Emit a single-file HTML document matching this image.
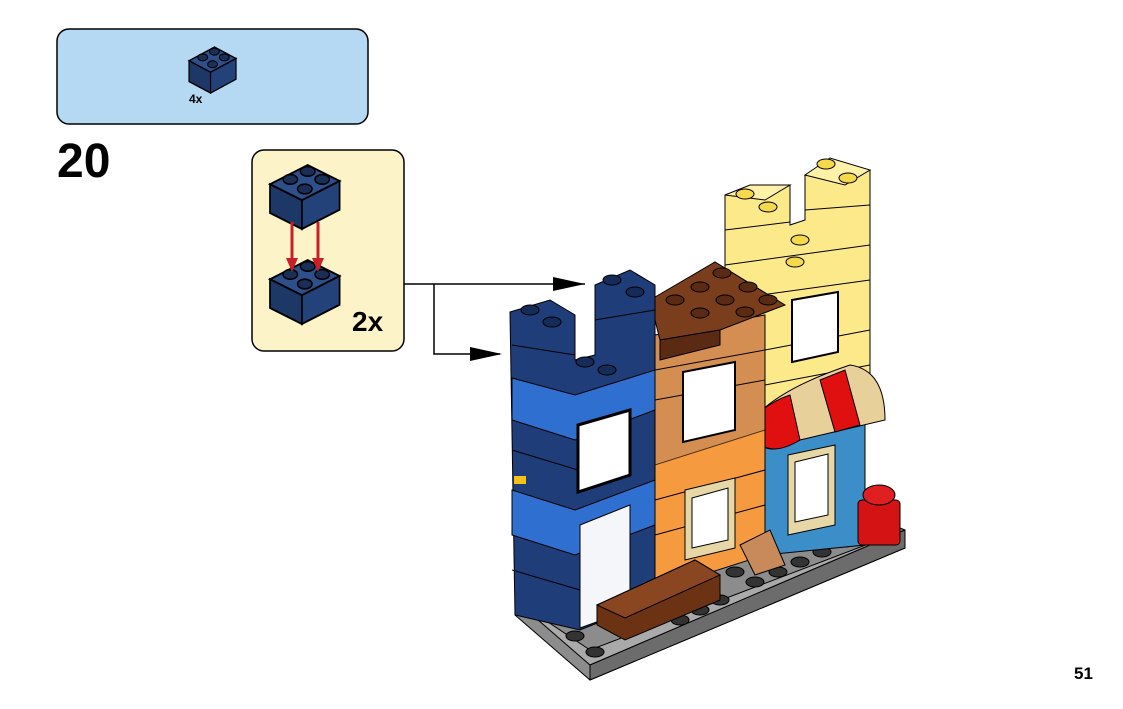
<!DOCTYPE html>
<html><head><meta charset="utf-8"><style>
html,body{margin:0;padding:0;background:#fff;}
body{width:1123px;height:709px;position:relative;overflow:hidden;font-family:"Liberation Sans",sans-serif;}
.t{position:absolute;font-weight:bold;color:#000;}
</style></head><body>
<svg width="1123" height="709" style="position:absolute;left:0;top:0" xmlns="http://www.w3.org/2000/svg">
<defs>
<g id="brick">
 <polygon points="0,12 22,22 48,10 26,0" fill="#2d4f8a" stroke="#000" stroke-width="1.2"/>
 <polygon points="0,12 22,22 22,40 0,30" fill="#1d3766" stroke="#000" stroke-width="1.2"/>
 <polygon points="22,22 48,10 48,28 22,40" fill="#24427a" stroke="#000" stroke-width="1.2"/>
 <ellipse cx="14" cy="9" rx="5" ry="3" fill="#1a2f58" stroke="#000"/>
 <ellipse cx="26" cy="4" rx="5" ry="3" fill="#1a2f58" stroke="#000"/>
 <ellipse cx="24" cy="15" rx="5" ry="3" fill="#1a2f58" stroke="#000"/>
 <ellipse cx="36" cy="9" rx="5" ry="3" fill="#1a2f58" stroke="#000"/>
</g>
</defs>
<rect x="57" y="29" width="311" height="95" rx="12" fill="#b5d9f2" stroke="#000" stroke-width="1.5"/>
<g transform="translate(189,47) scale(0.98,1.15)"><use href="#brick"/></g>
<rect x="252" y="150" width="152" height="201" rx="12" fill="#fdf3c9" stroke="#000" stroke-width="1.5"/>
<g transform="translate(270,165) scale(1.45,1.6)"><use href="#brick"/></g>
<g transform="translate(270,260) scale(1.45,1.6)"><use href="#brick"/></g>
<line x1="292" y1="222" x2="292" y2="262" stroke="#c8202a" stroke-width="3"/>
<polygon points="286,258 298,258 292,272" fill="#c8202a"/>
<line x1="318" y1="222" x2="318" y2="262" stroke="#c8202a" stroke-width="3"/>
<polygon points="312,258 324,258 318,272" fill="#c8202a"/>
<polyline points="404,284 585,284" fill="none" stroke="#000" stroke-width="1.5"/>
<polygon points="585,284 553,277 553,291" fill="#000"/>
<polyline points="434,284 434,354 500,354" fill="none" stroke="#000" stroke-width="1.5"/>
<polygon points="502,354 470,347 470,361" fill="#000"/>
<polygon points="515,615 590,680 905,548 905,530 830,500 515,600" fill="#8c8c8c" stroke="#000"/>
<polygon points="515,600 590,665 905,530 590,650" fill="#aaa" stroke="#000"/>
<polygon points="590,665 590,680 905,548 905,530" fill="#6c6c6c" stroke="#000"/>
<g fill="#333" stroke="#000">
<ellipse cx="575" cy="636" rx="9" ry="5"/><ellipse cx="595" cy="652" rx="9" ry="5"/>
<ellipse cx="735" cy="572" rx="9" ry="5"/><ellipse cx="755" cy="582" rx="9" ry="5"/><ellipse cx="778" cy="572" rx="9" ry="5"/>
<ellipse cx="800" cy="562" rx="9" ry="5"/><ellipse cx="822" cy="552" rx="9" ry="5"/><ellipse cx="845" cy="542" rx="9" ry="5"/>
<ellipse cx="810" cy="540" rx="9" ry="5"/><ellipse cx="835" cy="530" rx="9" ry="5"/><ellipse cx="700" cy="610" rx="9" ry="5"/>
<ellipse cx="680" cy="620" rx="9" ry="5"/><ellipse cx="720" cy="600" rx="9" ry="5"/>
</g>
<polygon points="725,195 790,185 790,225 805,220 805,175 870,170 870,420 765,440 765,330 725,330" fill="#fbe98a" stroke="#000"/>
<g stroke="#000" stroke-width="1" fill="none"><line x1="725" y1="230" x2="790" y2="222"/><line x1="725" y1="265" x2="870" y2="245"/><line x1="725" y1="300" x2="870" y2="280"/><line x1="765" y1="350" x2="870" y2="330"/><line x1="805" y1="210" x2="870" y2="205"/><line x1="765" y1="385" x2="870" y2="365"/></g>
<polygon points="725,195 750,185 790,185 765,200" fill="#fff2a8" stroke="#000"/>
<polygon points="805,175 830,158 870,170 845,185" fill="#fff2a8" stroke="#000"/>
<g fill="#f5d94a" stroke="#000"><ellipse cx="745" cy="194" rx="9" ry="5"/><ellipse cx="768" cy="207" rx="9" ry="5"/><ellipse cx="826" cy="164" rx="9" ry="5"/><ellipse cx="848" cy="178" rx="9" ry="5"/><ellipse cx="800" cy="240" rx="9" ry="5"/><ellipse cx="795" cy="262" rx="9" ry="5"/></g>
<polygon points="792,300 838,292 838,352 792,362" fill="#fff" stroke="#000" stroke-width="2"/>
<polygon points="765,430 865,410 865,545 765,555" fill="#3b8ec7" stroke="#000"/>
<polygon points="788,455 835,445 835,525 788,535" fill="#e8d7a6" stroke="#000"/>
<polygon points="795,462 828,454 828,515 795,522" fill="#fff" stroke="#000"/>
<path d="M762,410 Q790,385 850,365 Q885,370 885,420 L800,440 Q770,455 762,445 Z" fill="#e8d09a" stroke="#000"/>
<path d="M762,410 Q775,400 790,395 L800,440 Q775,455 762,445 Z" fill="#e01010" stroke="#000"/>
<path d="M820,380 L845,370 L860,425 L835,432 Z" fill="#e01010" stroke="#000"/>
<polygon points="655,335 765,315 765,555 655,590" fill="#f59a3e" stroke="#000"/>
<polygon points="655,335 765,315 765,430 655,465" fill="#c88a5a" stroke="#000" opacity="0.7"/>
<g stroke="#000" stroke-width="1"><line x1="655" y1="370" x2="765" y2="350"/><line x1="655" y1="400" x2="765" y2="380"/><line x1="655" y1="500" x2="765" y2="470"/><line x1="655" y1="535" x2="765" y2="505"/></g>
<polygon points="683,372 735,362 735,430 683,442" fill="#fff" stroke="#000" stroke-width="2"/>
<polygon points="685,490 735,478 735,548 685,560" fill="#e8d7a6" stroke="#000"/>
<polygon points="692,498 728,488 728,540 692,548" fill="#fff" stroke="#000"/>
<polygon points="740,545 770,530 785,565 755,575" fill="#c88a5a" stroke="#000"/>
<polygon points="650,300 715,262 785,305 720,330 660,340" fill="#7a3e1c" stroke="#000"/>
<polygon points="660,340 720,330 720,345 660,360" fill="#5b2a12" stroke="#000"/>
<g fill="#5b2a12" stroke="#000"><ellipse cx="675" cy="300" rx="9" ry="5"/><ellipse cx="700" cy="287" rx="9" ry="5"/><ellipse cx="722" cy="273" rx="9" ry="5"/><ellipse cx="700" cy="313" rx="9" ry="5"/><ellipse cx="725" cy="300" rx="9" ry="5"/><ellipse cx="748" cy="287" rx="9" ry="5"/><ellipse cx="745" cy="312" rx="9" ry="5"/><ellipse cx="768" cy="300" rx="9" ry="5"/></g>
<polygon points="510,312 550,300 575,315 575,360 595,355 595,285 630,270 655,285 655,600 580,630 515,615" fill="#1f3d78" stroke="#000"/>
<g stroke="#000" stroke-width="1"><line x1="512" y1="345" x2="575" y2="355"/><line x1="595" y1="320" x2="655" y2="310"/><line x1="512" y1="450" x2="578" y2="470"/><line x1="512" y1="570" x2="580" y2="590"/></g>
<polygon points="512,378 575,395 655,370 655,410 575,440 512,420" fill="#2f6fd0" stroke="#000"/>
<polygon points="512,490 575,510 655,480 655,525 575,555 512,535" fill="#2f6fd0" stroke="#000"/>
<polygon points="578,425 630,410 630,475 578,492" fill="#fff" stroke="#000" stroke-width="3"/>
<polygon points="580,525 630,505 630,610 580,628" fill="#f4f6fa" stroke="#000"/>
<g fill="#152c58" stroke="#000"><ellipse cx="530" cy="310" rx="9" ry="5"/><ellipse cx="552" cy="322" rx="9" ry="5"/><ellipse cx="612" cy="280" rx="9" ry="5"/><ellipse cx="635" cy="292" rx="9" ry="5"/><ellipse cx="585" cy="362" rx="9" ry="5"/><ellipse cx="607" cy="370" rx="9" ry="5"/></g>
<rect x="514" y="476" width="12" height="8" fill="#f2c21a"/>
<polygon points="597,605 695,560 720,575 720,600 625,640 597,625" fill="#6b3313" stroke="#000"/>
<polygon points="597,605 695,560 720,575 625,618" fill="#8a4620" stroke="#000"/>
<rect x="858" y="500" width="42" height="45" rx="4" fill="#d41414" stroke="#000"/>
<ellipse cx="879" cy="495" rx="16" ry="10" fill="#e02020" stroke="#000"/>
</svg>
<div class="t" style="left:189px;top:92px;font-size:12px;">4x</div>
<div class="t" style="left:57px;top:134px;font-size:48px;">20</div>
<div class="t" style="left:352px;top:306px;font-size:28px;">2x</div>
<div class="t" style="left:1074px;top:664px;font-size:17px;">51</div>
</body></html>
